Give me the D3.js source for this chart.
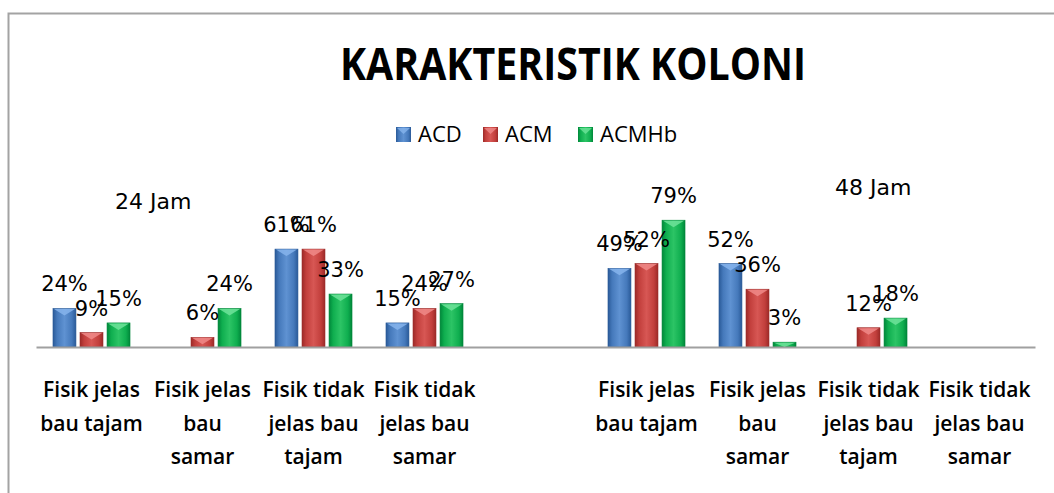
<!DOCTYPE html>
<html>
<head>
<meta charset="utf-8">
<script src="https://cdn.jsdelivr.net/npm/d3@7/dist/d3.min.js"></script>
<style>
  body { margin: 0; background: #fff; }
  svg { display: block; }
</style>
</head>
<body>
<div id="chart"></div>
<script>
// data (index 4 is the empty gap between 24 Jam and 48 Jam)
var categoryLines = [
    ["Fisik jelas", "bau tajam"],
    ["Fisik jelas", "bau", "samar"],
    ["Fisik tidak", "jelas bau", "tajam"],
    ["Fisik tidak", "jelas bau", "samar"],
    [],
    ["Fisik jelas", "bau tajam"],
    ["Fisik jelas", "bau", "samar"],
    ["Fisik tidak", "jelas bau", "tajam"],
    ["Fisik tidak", "jelas bau", "samar"]
];
var seriesNames = ["ACD", "ACM", "ACMHb"];
var acd   = [24, 0, 61, 15, null, 49, 52, 0, 0];
var acm   = [9, 6, 61, 24, null, 52, 36, 12, 0];
var acmhb = [15, 24, 33, 27, null, 79, 3, 18, 0];
var groupLabels = ["24 Jam", "48 Jam"];

var seriesValues = { "ACD": acd, "ACM": acm, "ACMHb": acmhb };
var colors = {
    "ACD":   { dark: "#2a5a98", mid: "#4579bb", light: "#5f92d2", top: "#86b4ec" },
    "ACM":   { dark: "#9c2a28", mid: "#c23f3c", light: "#d75754", top: "#f08a88" },
    "ACMHb": { dark: "#00873a", mid: "#0fae4f", light: "#2cc465", top: "#6ee39a" }
};

var width = 1054, height = 493;

var svg = d3.select("#chart")
    .append("svg")
    .attr("width", width)
    .attr("height", height);

svg.append("rect")
    .attr("width", width)
    .attr("height", height)
    .attr("fill", "#fff");

// chart border (only top and left are visible in the picture)
svg.append("path")
    .attr("d", "M8.5," + height + "V13.5H" + width)
    .attr("fill", "none")
    .attr("stroke", "#a3a3a3")
    .attr("stroke-width", 2);

// gradients for the bevelled bars
var defs = svg.append("defs");
seriesNames.forEach(function(s){
    var g = defs.append("linearGradient")
        .attr("id", "grad-" + s)
        .attr("x1", "0%").attr("x2", "100%")
        .attr("y1", "0%").attr("y2", "0%");
    g.append("stop").attr("offset", "0%").attr("stop-color", colors[s].dark);
    g.append("stop").attr("offset", "18%").attr("stop-color", colors[s].mid);
    g.append("stop").attr("offset", "50%").attr("stop-color", colors[s].light);
    g.append("stop").attr("offset", "82%").attr("stop-color", colors[s].mid);
    g.append("stop").attr("offset", "100%").attr("stop-color", colors[s].dark);
});

// scales
var x0 = d3.scaleBand()
    .domain(d3.range(categoryLines.length))
    .range([36, 1035])
    .paddingInner(0.306)
    .paddingOuter(0.153);

var x1 = d3.scaleBand()
    .domain(seriesNames)
    .range([0, x0.bandwidth()])
    .paddingInner(0.15);

var y = d3.scaleLinear()
    .domain([0, 100])
    .range([347, 186.5]);

// title
svg.append("text")
    .attr("x", 573)
    .attr("y", 80)
    .attr("text-anchor", "middle")
    .attr("textLength", 466)
    .attr("lengthAdjust", "spacingAndGlyphs")
    .style("font-family", "'Open Sans', sans-serif")
    .style("font-weight", "bold")
    .style("font-size", "44px")
    .text("KARAKTERISTIK KOLONI");

// legend
var legendX = [396, 483, 578];
var legend = svg.append("g").attr("class", "legend");
seriesNames.forEach(function(s, i){
    legend.append("rect")
        .attr("x", legendX[i])
        .attr("y", 127)
        .attr("width", 15)
        .attr("height", 15)
        .attr("fill", "url(#grad-" + s + ")");
    legend.append("path")
        .attr("d", "M" + (legendX[i] + 1) + ",128H" + (legendX[i] + 14) + "L" + (legendX[i] + 7.5) + ",134Z")
        .attr("fill", colors[s].top)
        .attr("opacity", 0.8);
    legend.append("text")
        .attr("x", legendX[i] + 22)
        .attr("y", 142)
        .style("font-family", "'Open Sans', sans-serif")
        .style("font-size", "22px")
        .text(s);
});

// group labels
var groupPos = [[115, 209], [835, 195]];
groupLabels.forEach(function(t, i){
    svg.append("text")
        .attr("x", groupPos[i][0])
        .attr("y", groupPos[i][1])
        .style("font-family", "'DejaVu Sans', sans-serif")
        .style("font-size", "22px")
        .text(t);
});

// bar data
var bars = [];
categoryLines.forEach(function(c, i){
    seriesNames.forEach(function(s){
        var v = seriesValues[s][i];
        if (v) bars.push({ cat: i, series: s, value: v });
    });
});

var barG = svg.append("g");

var barGroups = barG.selectAll("g.bar")
    .data(bars)
    .enter().append("g")
    .attr("class", "bar");

barGroups.append("rect")
    .attr("x", function(d){ return x0(d.cat) + x1(d.series); })
    .attr("y", function(d){ return y(d.value); })
    .attr("width", x1.bandwidth())
    .attr("height", function(d){ return y(0) - y(d.value); })
    .attr("fill", function(d){ return "url(#grad-" + d.series + ")"; })
    .attr("stroke", function(d){ return colors[d.series].dark; })
    .attr("stroke-width", 0.6);

// light bevel triangle at the top of each bar
barGroups.append("path")
    .attr("d", function(d){
        var bx = x0(d.cat) + x1(d.series);
        var by = y(d.value);
        var w = x1.bandwidth();
        var h = Math.min(7, y(0) - by);
        return "M" + (bx + 1) + "," + (by + 0.5) + "H" + (bx + w - 1) +
               "L" + (bx + w / 2) + "," + (by + h) + "Z";
    })
    .attr("fill", function(d){ return colors[d.series].top; })
    .attr("opacity", 0.85);

// x axis
var axis = svg.append("g")
    .attr("transform", "translate(0," + y(0) + ")")
    .call(d3.axisBottom(x0).tickSize(0).tickFormat(""));

axis.select(".domain")
    .attr("stroke", "#a0a0a0")
    .attr("stroke-width", 2);

axis.selectAll(".tick text").remove();
axis.selectAll(".tick").each(function(d){
    var t = d3.select(this).append("text")
        .attr("fill", "#000")
        .attr("text-anchor", "middle")
        .style("font-family", "'Open Sans', sans-serif")
        .style("font-weight", "600")
        .style("font-size", "21px");
    categoryLines[d].forEach(function(line, k){
        t.append("tspan")
            .attr("x", 0)
            .attr("y", 50 + k * 33.5)
            .text(line);
    });
});

// data labels
svg.append("g").selectAll("text")
    .data(bars)
    .enter().append("text")
    .attr("x", function(d){ return x0(d.cat) + x1(d.series) + x1.bandwidth() / 2; })
    .attr("y", function(d){ return y(d.value) - 17; })
    .attr("text-anchor", "middle")
    .style("font-family", "'DejaVu Sans', sans-serif")
    .style("font-size", "21px")
    .text(function(d){ return d.value + "%"; });
</script>
</body>
</html>
